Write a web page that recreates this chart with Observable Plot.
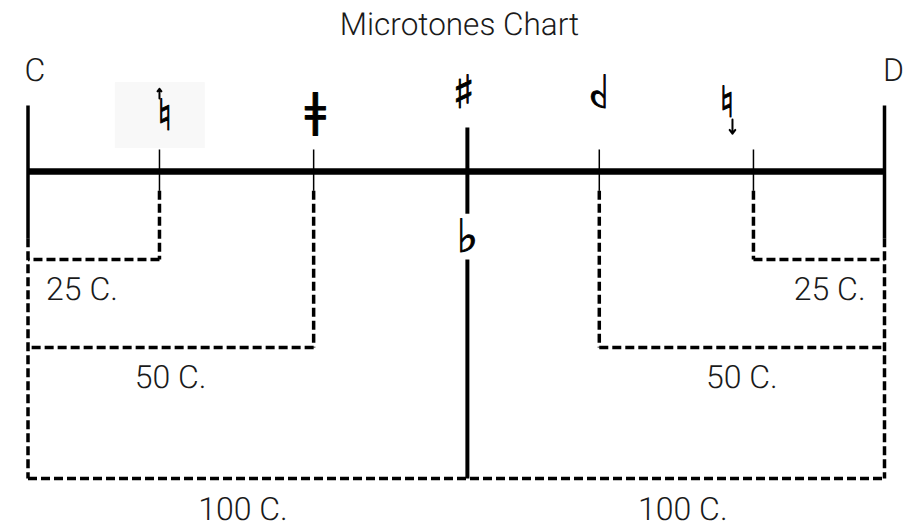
<!DOCTYPE html>
<html><head><meta charset="utf-8">
<script src="https://cdn.jsdelivr.net/npm/d3@7"></script>
<script src="https://cdn.jsdelivr.net/npm/@observablehq/plot@0.6"></script>
<style>
body{margin:0;background:#fff;}
#chart svg{display:block}
#chart svg text{text-rendering:geometricPrecision}
</style></head><body><div id="chart"></div>
<script>
// ---- data (x in cents-like units, C = 0, D = 200) ----
const title = "Microtones Chart";
const noteLabels = ["C", "D"];
const noteCents = [0, 200];
const noteLabelCents = [1.6, 202.1];
const noteLabelLevel = [1.15, 1.15];

const microCents = [30.7, 66.7, 133.4, 169.4];   // quarter/three-quarter ticks
const microBoxLevel = [-1, -2, -2, -1];           // level where each dashed bracket turns
const midCents = 102.6;                           // sharp / flat line

const boxLevels = [-1, -2, -3.49];                // 25 C., 50 C., 100 C. brackets
const intervalLabels = ["25 C.", "50 C.", "100 C.", "25 C.", "50 C.", "100 C."];
const intervalLabelCents = [12.6, 33.3, 50.2, 187.2, 166.7, 152.9];
const intervalLabelLevel = [-1.34, -2.34, -3.84, -1.34, -2.34, -3.84];

const symbols = ["♮", "ǂ", "♯", "♭", "♭", "♮"];
const symbolCents = [31.9, 67.1, 101.7, 102.6, 133.2, 163.2];
const symbolLevel = [0.625, 0.68, 0.89, -0.75, 0.72, 0.78];
const symbolMirrored = [false, false, false, false, true, false];

const arrowCents = [30.7, 164.5];
const arrowFrom = [0.83, 0.59];
const arrowTo = [0.94, 0.43];

const highlightCents = [20.4, 41.4];
const highlightLevel = [0.26, 1.01];

// structural levels
const outerTop = 0.75, outerSolidEnd = -0.76;
const tickTop = 0.25, tickSolidEnd = -0.22;
const midTop = 0.5, midUpperEnd = -0.48, midLowerStart = -1.0;
const bottomLevel = boxLevels[2];

// ---- derived tables ----
const solidThick = noteCents.map(c => ({x1: c, x2: c, y1: outerTop, y2: outerSolidEnd}));
const midSegs = [
  {x1: midCents, x2: midCents, y1: midTop, y2: midUpperEnd},
  {x1: midCents, x2: midCents, y1: midLowerStart, y2: bottomLevel}
];
const ticks = microCents.map(c => ({x1: c, x2: c, y1: tickTop, y2: tickSolidEnd}));
const dashed = [];
noteCents.forEach(c => dashed.push({x1: c, x2: c, y1: outerSolidEnd, y2: bottomLevel}));
dashed.push({x1: noteCents[0], x2: noteCents[1], y1: bottomLevel, y2: bottomLevel});
microCents.forEach((c, i) => {
  const lvl = microBoxLevel[i];
  const edge = c < midCents ? noteCents[0] : noteCents[1];
  dashed.push({x1: c, x2: c, y1: tickSolidEnd, y2: lvl});
  dashed.push({x1: c, x2: edge, y1: lvl, y2: lvl});
});

const symTable = symbols.map((s, i) => ({s, x: symbolCents[i], y: symbolLevel[i], m: symbolMirrored[i]}));
const labelTable = intervalLabels.map((t, i) => ({t, x: intervalLabelCents[i], y: intervalLabelLevel[i]}));
const noteTable = noteLabels.map((t, i) => ({t, x: noteLabelCents[i], y: noteLabelLevel[i]}));
const arrowTable = arrowCents.map((c, i) => ({x1: c, x2: c, y1: arrowFrom[i], y2: arrowTo[i]}));

const textFont = "Roboto, 'Liberation Sans', sans-serif";
const musicFont = "'DejaVu Sans', sans-serif";
const symSize = d => d.s === "♮" ? 43 : 46;

const chart = Plot.plot({
  width: 906, height: 528, margin: 0,
  x: {domain: [0, 200], range: [27.5, 884], axis: null},
  y: {domain: [-4.057, 1.943], range: [528, 0], axis: null},
  style: {background: "#fff", overflow: "visible"},
  marks: [
    Plot.rect([{x1: highlightCents[0], x2: highlightCents[1], y1: highlightLevel[0], y2: highlightLevel[1]}],
      {x1: "x1", x2: "x2", y1: "y1", y2: "y2", fill: "#f8f8f8"}),
    Plot.link(dashed, {x1: "x1", x2: "x2", y1: "y1", y2: "y2", stroke: "#000", strokeWidth: 3.5, strokeDasharray: "9,4", strokeLinecap: "butt"}),
    Plot.link(solidThick, {x1: "x1", x2: "x2", y1: "y1", y2: "y2", stroke: "#000", strokeWidth: 3.5}),
    Plot.link(midSegs, {x1: "x1", x2: "x2", y1: "y1", y2: "y2", stroke: "#000", strokeWidth: 4}),
    Plot.link(ticks, {x1: "x1", x2: "x2", y1: "y1", y2: "y2", stroke: "#000", strokeWidth: 1.5}),
    Plot.ruleY([0], {x1: noteCents[0], x2: noteCents[1], stroke: "#000", strokeWidth: 6.5}),
    Plot.arrow(arrowTable, {x1: "x1", x2: "x2", y1: "y1", y2: "y2", stroke: "#000", strokeWidth: 2, headLength: 7, headAngle: 75}),
    Plot.text(symTable.filter(d => !d.m), {x: "x", y: "y", text: "s", fontFamily: musicFont, fontSize: symSize, fill: "#000", stroke: "#000", strokeWidth: 0.9, lineAnchor: "middle"}),
    Plot.text(symTable.filter(d => d.m), {x: "x", y: "y", text: "s", fontFamily: musicFont, fontSize: symSize, fill: "#000", stroke: "#000", strokeWidth: 0.9, lineAnchor: "middle", className: "mirror"}),
    Plot.text(labelTable, {x: "x", y: "y", text: "t", fontFamily: textFont, fontWeight: 300, fontSize: 32, fill: "#1a1a1a", lineAnchor: "middle"}),
    Plot.text(noteTable, {x: "x", y: "y", text: "t", fontFamily: textFont, fontWeight: 300, fontSize: 32, fill: "#1a1a1a", lineAnchor: "middle"}),
    Plot.text([title], {frameAnchor: "top", dx: 6, dy: 12, text: d => d, fontFamily: textFont, fontWeight: 300, fontSize: 31.5, fill: "#1a1a1a", lineAnchor: "top"})
  ]
});

chart.querySelectorAll(".mirror text").forEach(t => {
  const x = +t.getAttribute("x") || 0, y = +t.getAttribute("y") || 0;
  const tr = t.getAttribute("transform") || "";
  t.setAttribute("x", 0); t.setAttribute("y", 0);
  t.setAttribute("transform", `${tr} translate(${x},${y}) scale(-1,1)`);
});

document.getElementById("chart").appendChild(chart);
</script>
</body></html>
